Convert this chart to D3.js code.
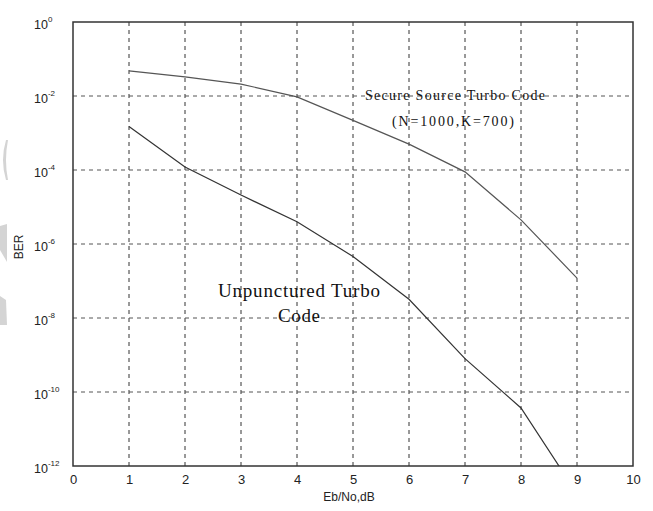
<!DOCTYPE html>
<html>
<head>
<meta charset="utf-8">
<script src="https://cdn.jsdelivr.net/npm/d3@7"></script>
<style>
  html, body { margin: 0; padding: 0; background: #fff; }
  svg { display: block; }
</style>
</head>
<body>
<svg id="chart" width="653" height="511"></svg>
<script>
// ---- data ----
const ebno = [1, 2, 3, 4, 5, 6, 7, 8, 9];
const secureBER = [4.8e-2, 3.3e-2, 2.1e-2, 9.5e-3, 2.2e-3, 5.0e-4, 8.9e-5, 4.5e-6, 1.2e-7];
const unpuncturedBER = [1.5e-3, 1.2e-4, 2.1e-5, 4.0e-6, 4.6e-7, 3.2e-8, 8.0e-10, 3.7e-11, 1.8e-13];
const xTicks = [0, 1, 2, 3, 4, 5, 6, 7, 8, 9, 10];
const yTickExps = [0, -2, -4, -6, -8, -10, -12];
const yTicks = [1, 1e-2, 1e-4, 1e-6, 1e-8, 1e-10, 1e-12];

const svg = d3.select("#chart");
const L = 73, R = 633, T = 22, B = 466;
const x = d3.scaleLinear().domain([0, 10]).range([L, R]);
const y = d3.scaleLog().domain([1e-12, 1]).range([B, T]);

// faint watermark shapes at left edge
const wm = svg.append("g").attr("fill", "#d4d4d4");
wm.append("path").attr("d", "M6,140 Q0,160 6,180 L8,180 Q4,160 8,140 Z");
wm.append("path").attr("d", "M0,226 L7,224 L7,262 L0,250 Z");
wm.append("path").attr("d", "M0,296 L6,300 L7,325 L0,325 Z");

// clip
svg.append("defs").append("clipPath").attr("id", "clip")
  .append("rect").attr("x", L).attr("y", T).attr("width", R - L).attr("height", B - T);

// grid
const grid = svg.append("g");
grid.selectAll("line.v").data(xTicks.filter(d => d > 0 && d < 10)).join("line")
  .attr("x1", d => x(d)).attr("x2", d => x(d)).attr("y1", T).attr("y2", B)
  .attr("stroke", "#333").attr("stroke-width", 1).attr("stroke-dasharray", "4,4");
grid.selectAll("line.h").data(yTicks.filter(d => d < 1 && d > 1e-12)).join("line")
  .attr("x1", L).attr("x2", R).attr("y1", d => y(d)).attr("y2", d => y(d))
  .attr("stroke", "#555").attr("stroke-width", 1).attr("stroke-dasharray", "4,4");

// axes with d3
const xAxis = d3.axisBottom(x).tickValues(xTicks).tickSize(0).tickPadding(9);
const gx = svg.append("g").attr("transform", `translate(0,${B})`).call(xAxis);
gx.select(".domain").remove();
gx.selectAll("text").attr("font-family", "Liberation Sans, Arial, sans-serif")
  .attr("font-size", 13).attr("fill", "#222");

const yAxis = d3.axisLeft(y).tickValues(yTicks).tickSize(0).tickFormat(() => "");
const gy = svg.append("g").attr("transform", `translate(${L},0)`).call(yAxis);
gy.select(".domain").remove();
gy.selectAll(".tick").each(function (d, i) {
  const t = d3.select(this).append("text")
    .attr("x", -39).attr("y", 6).attr("text-anchor", "start")
    .attr("font-family", "Liberation Sans, Arial, sans-serif").attr("fill", "#222");
  t.append("tspan").attr("font-size", 12.5).text("10");
  t.append("tspan").attr("font-size", 8).attr("dy", -7).text(yTickExps[i] === 0 ? "0" : "-" + Math.abs(yTickExps[i]));
});

// frame
svg.append("rect").attr("x", L).attr("y", T).attr("width", R - L).attr("height", B - T)
  .attr("fill", "none").attr("stroke", "#333").attr("stroke-width", 1.5);

// curves
const line = d3.line().x(d => x(d[0])).y(d => y(d[1]));
const curves = svg.append("g").attr("clip-path", "url(#clip)");
curves.append("path").datum(ebno.map((e, i) => [e, secureBER[i]]))
  .attr("d", line).attr("fill", "none").attr("stroke", "#555").attr("stroke-width", 1.2);
curves.append("path").datum(ebno.map((e, i) => [e, unpuncturedBER[i]]))
  .attr("d", line).attr("fill", "none").attr("stroke", "#333").attr("stroke-width", 1.2);

// annotations
const serif = "Liberation Serif, Times New Roman, serif";
function label(txt, cx, by, size, len) {
  svg.append("text").attr("x", cx - len / 2).attr("y", by)
    .attr("font-family", serif).attr("font-size", size).attr("fill", "#111")
    .attr("textLength", len).attr("lengthAdjust", "spacing")
    .text(txt);
}
label("Secure Source Turbo Code", 455, 100, 14, 180);
label("(N=1000,K=700)", 453, 126, 14, 122);
label("Unpunctured Turbo", 299, 297, 19, 162);
label("Code", 299, 322, 19, 42);

// axis titles
svg.append("text").attr("x", 349).attr("y", 501).attr("text-anchor", "middle")
  .attr("font-family", "Liberation Sans, Arial, sans-serif").attr("font-size", 12).attr("fill", "#222")
  .text("Eb/No,dB");
svg.append("text").attr("transform", "translate(23,247) rotate(-90)").attr("text-anchor", "middle")
  .attr("font-family", "Liberation Sans, Arial, sans-serif").attr("font-size", 12).attr("fill", "#222")
  .text("BER");
</script>
</body>
</html>
